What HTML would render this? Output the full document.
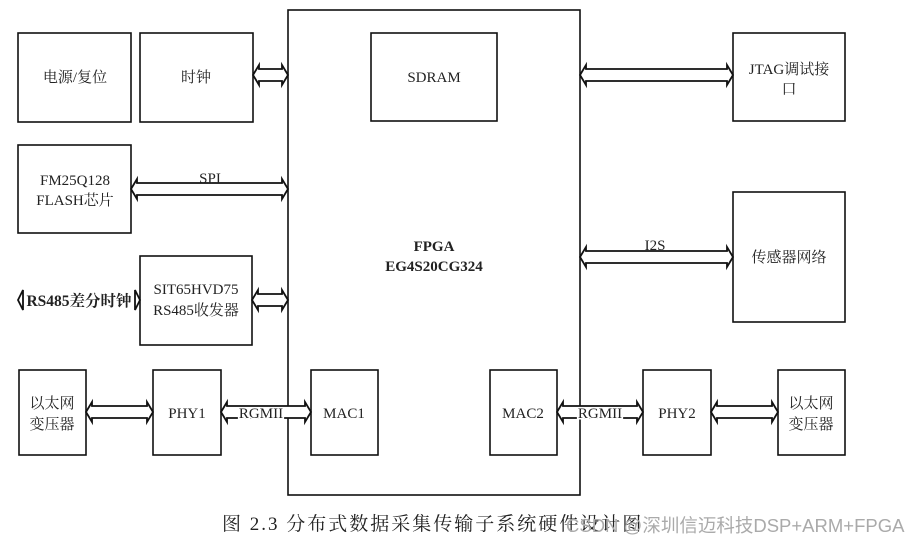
<!DOCTYPE html>
<html><head><meta charset="utf-8"><style>
body{margin:0;background:#fff;}
svg text{font-family:"Liberation Serif","Noto Serif CJK SC",serif;font-size:15px;fill:#222;}
</style></head><body>
<svg width="921" height="545" viewBox="0 0 921 545" xmlns="http://www.w3.org/2000/svg">
<g fill="none" stroke="#111" stroke-width="1.6">
<rect x="18" y="33" width="113" height="89"/>
<rect x="140" y="33" width="113" height="89"/>
<rect x="288" y="10" width="292" height="485"/>
<rect x="371" y="33" width="126" height="88"/>
<rect x="733" y="33" width="112" height="88"/>
<rect x="18" y="145" width="113" height="88"/>
<rect x="733" y="192" width="112" height="130"/>
<rect x="140" y="256" width="112" height="89"/>
<rect x="19" y="370" width="67" height="85"/>
<rect x="153" y="370" width="68" height="85"/>
<rect x="311" y="370" width="67" height="85"/>
<rect x="490" y="370" width="67" height="85"/>
<rect x="643" y="370" width="68" height="85"/>
<rect x="778" y="370" width="67" height="85"/>
</g>
<g fill="#fff" stroke="#111" stroke-width="1.8" stroke-linejoin="miter">
<path d="M253 75 l6 -10 v4 h23 v-4 l6 10 l-6 10 v-4 h-23 v4 z"/>
<path d="M131 189 l6 -10 v4 h145 v-4 l6 10 l-6 10 v-4 h-145 v4 z"/>
<path d="M580 75 l6 -10 v4 h141 v-4 l6 10 l-6 10 v-4 h-141 v4 z"/>
<path d="M580 257 l6 -10 v4 h141 v-4 l6 10 l-6 10 v-4 h-141 v4 z"/>
<path d="M252 300 l6 -10 v4 h24 v-4 l6 10 l-6 10 v-4 h-24 v4 z"/>
<path d="M86 412 l6 -10 v4 h55 v-4 l6 10 l-6 10 v-4 h-55 v4 z"/>
<path d="M221 412 l6 -10 v4 h78 v-4 l6 10 l-6 10 v-4 h-78 v4 z"/>
<path d="M557 412 l6 -10 v4 h74 v-4 l6 10 l-6 10 v-4 h-74 v4 z"/>
<path d="M711 412 l6 -10 v4 h55 v-4 l6 10 l-6 10 v-4 h-55 v4 z"/>
<path d="M18 300 l5 -10 v20 z"/>
<path d="M140 300 l-5 -10 v20 z"/>
</g>
<g text-anchor="middle">
<text x="75" y="82">电源/复位</text>
<text x="196" y="82">时钟</text>
<text x="434" y="82">SDRAM</text>
<text x="789" y="74">JTAG调试接</text>
<text x="789" y="94">口</text>
<text x="75" y="185">FM25Q128</text>
<text x="75" y="205">FLASH芯片</text>
<text x="210" y="183">SPI</text>
<text x="434" y="251" font-weight="bold">FPGA</text>
<text x="434" y="271" font-weight="bold">EG4S20CG324</text>
<text x="655" y="250">I2S</text>
<text x="789" y="262">传感器网络</text>
<text x="196" y="294">SIT65HVD75</text>
<text x="196" y="315">RS485收发器</text>
<text x="79" y="306" font-weight="bold" style="font-size:15.5px;paint-order:stroke" stroke="#fff" stroke-width="3">RS485差分时钟</text>
<text x="52" y="408">以太网</text>
<text x="52" y="429">变压器</text>
<text x="187" y="418">PHY1</text>
<text x="344" y="418">MAC1</text>
<text x="523" y="418">MAC2</text>
<text x="677" y="418">PHY2</text>
<text x="811" y="408">以太网</text>
<text x="811" y="429">变压器</text>
<text x="261" y="418" style="paint-order:stroke" stroke="#fff" stroke-width="3">RGMII</text>
<text x="600" y="418" style="paint-order:stroke" stroke="#fff" stroke-width="3">RGMII</text>
</g>
<text x="222" y="530" style="font-size:19px" letter-spacing="2">图 2.3 分布式数据采集传输子系统硬件设计图</text>
<text x="566" y="532" style="font-size:18.5px;font-family:'Liberation Sans','Noto Sans CJK SC',sans-serif;fill:#aaa">CSDN @深圳信迈科技DSP+ARM+FPGA</text>
</svg>
</body></html>
